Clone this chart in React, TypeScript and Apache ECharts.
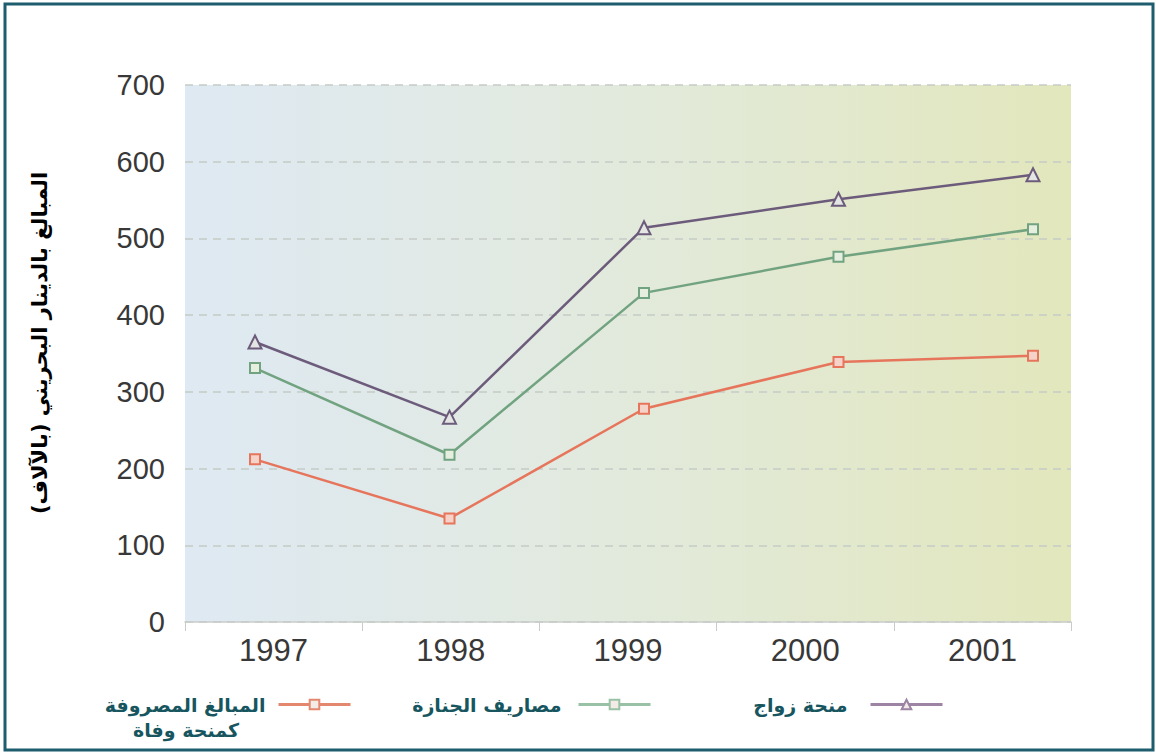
import React, { useEffect, useRef } from "react";
import * as echarts from "echarts";

const years = ["1997", "1998", "1999", "2000", "2001"];
const yTicks = [0, 100, 200, 300, 400, 500, 600, 700];
const deathGrant = [212, 135, 278, 339, 347];
const funeralCosts = [331, 218, 429, 476, 512];
const marriageGrant = [365, 267, 514, 551, 583];

const nameDeath = "المبالغ المصروفة كمنحة وفاة";
const nameFuneral = "مصاريف الجنازة";
const nameMarriage = "منحة زواج";
const yTitle = "المبالغ بالدينار البحريني (بالآلاف)";

const arabicFont = "'DejaVu Sans', sans-serif";
const legendText = {
  fontFamily: arabicFont,
  fontWeight: "bold" as const,
  fontSize: 19,
  color: "#17565f",
};

export default function App() {
  const ref = useRef<HTMLDivElement>(null);
  useEffect(() => {
    if (!ref.current) return;
    const chart = echarts.init(ref.current, null, { renderer: "svg" });
    const grid = { left: 185, right: 85, top: 85, bottom: 131 };
    const mkLegend = (
      name: string,
      right: number,
      color: string,
      gap: number,
      fmt?: string
    ) => ({
      data: [name],
      right,
      top: 695,
      padding: 0,
      align: "right",
      itemWidth: 72,
      itemHeight: 12,
      textStyle: { ...legendText, padding: [0, gap, 0, 0] },
      lineStyle: { color, width: 3 },
      itemStyle: { color: "#f3ece6", borderColor: color },
      formatter: fmt ? () => fmt : undefined,
    });
    chart.setOption({
      animation: false,
      backgroundColor: "#ffffff",
      grid: [
        {
          ...grid,
          show: true,
          borderWidth: 0,
          backgroundColor: new echarts.graphic.LinearGradient(0, 0, 1, 0, [
            { offset: 0, color: "#dee9f3" },
            { offset: 0.45, color: "#e2eadf" },
            { offset: 1, color: "#e2e7bc" },
          ]),
        },
        { left: 255, right: 123, top: 85, bottom: 131 },
      ],
      xAxis: [
        {
          type: "category",
          data: years,
          gridIndex: 0,
          boundaryGap: true,
          axisLine: { lineStyle: { color: "#c9cdca", width: 1.5 } },
          axisTick: { show: true, length: 9, lineStyle: { color: "#c9cdca" } },
          axisLabel: {
            fontFamily: "'Liberation Sans', Arial, sans-serif",
            fontSize: 31,
            color: "#383838",
            margin: 13,
          },
        },
        {
          type: "category",
          data: years,
          gridIndex: 1,
          boundaryGap: false,
          show: false,
        },
      ],
      yAxis: [
        {
          type: "value",
          gridIndex: 0,
          min: yTicks[0],
          max: yTicks[yTicks.length - 1],
          interval: 100,
          axisLine: { show: false },
          axisTick: { show: false },
          axisLabel: {
            fontFamily: "'Liberation Sans', Arial, sans-serif",
            fontSize: 29,
            color: "#383838",
            margin: 20,
          },
          splitLine: { lineStyle: { color: "#c5cbc6", type: [8, 6], width: 1.5 } },
        },
        {
          type: "value",
          gridIndex: 1,
          min: 0,
          max: 700,
          show: false,
        },
      ],
      legend: [
        mkLegend(nameDeath, 804, "#e3876f", 8, "المبالغ المصروفة"),
        mkLegend(nameFuneral, 504, "#98c1a6", 12),
        mkLegend(nameMarriage, 212, "#9d83a4", 18),
      ],
      series: [
        {
          name: nameDeath,
          type: "line",
          xAxisIndex: 1,
          yAxisIndex: 1,
          data: deathGrant,
          symbol: "rect",
          symbolSize: 10,
          lineStyle: { color: "#e6755c", width: 2.5 },
          itemStyle: { color: "#f6d3c8", borderColor: "#e6755c", borderWidth: 2 },
        },
        {
          name: nameFuneral,
          type: "line",
          xAxisIndex: 1,
          yAxisIndex: 1,
          data: funeralCosts,
          symbol: "rect",
          symbolSize: 10,
          lineStyle: { color: "#72a381", width: 2.5 },
          itemStyle: { color: "#e6eee0", borderColor: "#72a381", borderWidth: 2 },
        },
        {
          name: nameMarriage,
          type: "line",
          xAxisIndex: 1,
          yAxisIndex: 1,
          data: marriageGrant,
          symbol: "triangle",
          symbolSize: 13,
          lineStyle: { color: "#6c5b7b", width: 2.5 },
          itemStyle: { color: "#e4e6e4", borderColor: "#6c5b7b", borderWidth: 2 },
        },
      ],
      graphic: [
        {
          type: "rect",
          shape: { x: 5, y: 4, width: 1148, height: 746 },
          style: { fill: "none", stroke: "#1d5d6e", lineWidth: 3 },
          silent: true,
        },
        {
          type: "text",
          x: 40,
          y: 343,
          rotation: Math.PI / 2,
          style: {
            text: yTitle,
            fontFamily: arabicFont,
            fontWeight: "bold",
            fontSize: 21,
            fill: "#000000",
            align: "center",
            verticalAlign: "middle",
          },
        },
        {
          type: "text",
          x: 186,
          y: 730,
          style: {
            text: "كمنحة وفاة",
            ...legendText,
            fill: legendText.color,
            align: "center",
            verticalAlign: "middle",
          },
        },
      ],
    });
    return () => chart.dispose();
  }, []);
  return (
    <div
      ref={ref}
      style={{ position: "fixed", left: 0, top: 0, width: 1156, height: 753 }}
    />
  );
}
